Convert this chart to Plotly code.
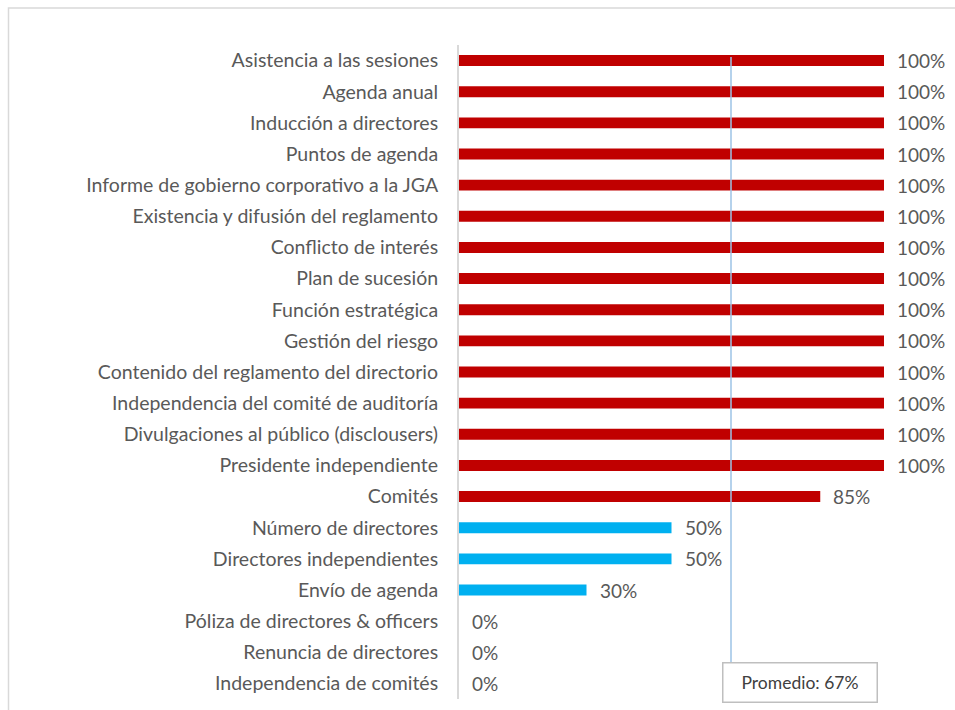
import plotly.graph_objects as go

categories = [
    "Asistencia a las sesiones",
    "Agenda anual",
    "Inducción a directores",
    "Puntos de agenda",
    "Informe de gobierno corporativo a la JGA",
    "Existencia y difusión del reglamento",
    "Conflicto de interés",
    "Plan de sucesión",
    "Función estratégica",
    "Gestión del riesgo",
    "Contenido del reglamento del directorio",
    "Independencia del comité de auditoría",
    "Divulgaciones al público (disclousers)",
    "Presidente independiente",
    "Comités",
    "Número de directores",
    "Directores independientes",
    "Envío de agenda",
    "Póliza de directores & officers",
    "Renuncia de directores",
    "Independencia de comités",
]
values = [1.00, 1.00, 1.00, 1.00, 1.00, 1.00, 1.00, 1.00, 1.00, 1.00,
          1.00, 1.00, 1.00, 1.00, 0.85, 0.50, 0.50, 0.30, 0.00, 0.00, 0.00]
average_line = 0.64
average_label = "Promedio: 67%"

RED = "#C00000"
BLUE = "#00B0F0"
TXT = "#595959"
FONT = "Lato, 'Open Sans', sans-serif"

colors = [RED if v > average_line else BLUE for v in values]

fig = go.Figure()
fig.add_trace(go.Bar(
    x=values, y=categories, orientation="h",
    marker=dict(color=colors, line=dict(width=0)),
    width=0.35, hoverinfo="skip",
))

for c, v in zip(categories, values):
    fig.add_annotation(x=v, y=c, xref="x", yref="y", text=f"{round(v*100)}%",
                       showarrow=False, xanchor="left", xshift=11,
                       font=dict(family=FONT, size=19, color=TXT))

# average line
fig.add_shape(type="line", xref="x", yref="paper", x0=average_line, x1=average_line,
              y0=0.056, y1=0.9816, line=dict(color="#9DC3E6", width=1.5), layer="above")
# average label box
fig.add_annotation(x=average_line, y=0.0254, xref="x", yref="paper", text=average_label,
                   showarrow=False, xanchor="left", yanchor="middle", xshift=-9,
                   width=151, height=36, bordercolor="#BFBFBF", borderwidth=1.5,
                   bgcolor="white", font=dict(family=FONT, size=17.5, color="#404040"))
# outer chart border
fig.add_shape(type="rect", xref="paper", yref="paper", x0=-1.06, y0=-0.2, x1=1.5, y1=1.0566,
              line=dict(color="#D9D9D9", width=1.5), layer="below")

fig.update_layout(
    width=955, height=710,
    margin=dict(l=459, r=70.5, t=45, b=11.4),
    paper_bgcolor="white", plot_bgcolor="white",
    showlegend=False, bargap=0.66,
    font=dict(family=FONT, size=19, color=TXT),
    xaxis=dict(range=[0, 1], visible=False, fixedrange=True),
    yaxis=dict(autorange="reversed", showgrid=False, showline=True, linecolor="#D9D9D9",
               linewidth=2, ticks="", ticklabelstandoff=15, fixedrange=True,
               tickfont=dict(family=FONT, size=19.5, color=TXT), zeroline=False),
)

fig.write_html("out.html", config={"displayModeBar": False},
               post_script="document.body.style.margin='0px';")
